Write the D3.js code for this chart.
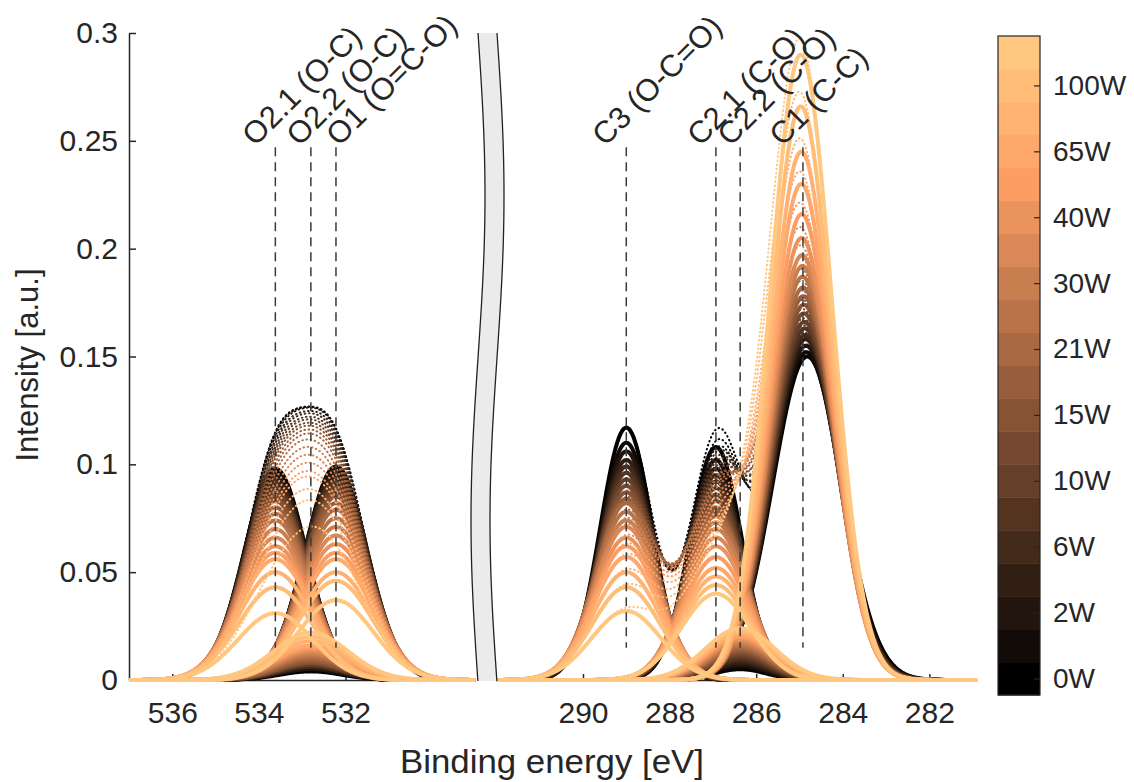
<!DOCTYPE html>
<html><head><meta charset="utf-8">
<script src="https://cdn.jsdelivr.net/npm/d3@7"></script>
<style>
body{margin:0;background:#fff}
text{font-family:"Liberation Sans",Arial,Helvetica,sans-serif;fill:#262626}
</style>
</head><body>
<svg id="chart" width="1134" height="782"></svg>
<script>
// ---------------- data ----------------
const yTicks = [0, 0.05, 0.1, 0.15, 0.2, 0.25, 0.3];
const xTicksO = [536, 534, 532];
const xTicksC = [290, 288, 286, 284, 282];
const colorbarLabels = ["0W","2W","6W","10W","15W","21W","30W","40W","65W","100W"];
const colorbarLabelIndex = [0,2,4,6,8,10,12,14,16,18];
const nSeries = 20;

const peakNames   = ["O2.1 (O-C)","O2.2 (O-C)","O1 (O=C-O)","C3 (O-C=O)","C2.1 (C-O)","C2.2 (C-O)","C1 (C-C)"];
const peakRegion  = ["O","O","O","C","C","C","C"];
const peakCenters = [533.62, 532.8, 532.22, 289.0, 286.93, 286.37, 284.92];
const peakLabelAt = [534.09, 533.07, 532.15, 289.49, 287.3, 286.6, 285.4];

// component amplitudes for each power level (0W ... highest)
const ampO21 = [0.098,0.097,0.095,0.093,0.091,0.089,0.087,0.085,0.083,0.080,0.077,0.074,0.070,0.066,0.062,0.059,0.056,0.050,0.043,0.031];
const ampO22 = [0.004,0.005,0.005,0.006,0.006,0.007,0.007,0.008,0.008,0.009,0.010,0.011,0.012,0.013,0.014,0.015,0.016,0.018,0.020,0.022];
const ampO1  = [0.099,0.098,0.097,0.095,0.093,0.091,0.089,0.087,0.085,0.082,0.079,0.075,0.071,0.067,0.063,0.059,0.056,0.050,0.046,0.037];
const ampC3  = [0.117,0.110,0.106,0.102,0.099,0.096,0.093,0.090,0.087,0.084,0.082,0.078,0.074,0.071,0.066,0.062,0.057,0.050,0.043,0.032];
const ampC21 = [0.108,0.102,0.098,0.095,0.092,0.089,0.086,0.083,0.080,0.078,0.076,0.073,0.070,0.066,0.062,0.057,0.052,0.048,0.044,0.040];
const ampC22 = [0.005,0.006,0.007,0.008,0.009,0.010,0.011,0.012,0.013,0.014,0.015,0.016,0.017,0.018,0.019,0.020,0.021,0.022,0.023,0.024];
const ampC1  = [0.150,0.152,0.155,0.158,0.160,0.163,0.166,0.170,0.174,0.178,0.182,0.187,0.192,0.197,0.205,0.216,0.230,0.245,0.266,0.290];
const centerC1 = [284.82,284.84,284.85,284.86,284.87,284.88,284.89,284.9,284.9,284.91,284.92,284.93,284.93,284.94,284.95,284.95,284.96,284.96,284.97,284.97];
// Gaussian widths (sigma, eV)
const sigmaO  = [0.72,0.72,0.73,0.73,0.74,0.74,0.75,0.75,0.76,0.77,0.78,0.79,0.80,0.81,0.82,0.82,0.83,0.84,0.85,0.86];
const sigmaC  = [0.60,0.61,0.62,0.63,0.64,0.65,0.66,0.67,0.68,0.69,0.70,0.71,0.72,0.73,0.74,0.75,0.76,0.77,0.78,0.80];
const sigmaC1 = [0.80,0.79,0.78,0.78,0.77,0.77,0.76,0.76,0.75,0.75,0.74,0.74,0.74,0.73,0.73,0.73,0.72,0.72,0.72,0.72];

// ---------------- layout ----------------
const svg = d3.select("#chart");
const y  = d3.scaleLinear().domain([0, 0.3]).range([680, 33]);
const xO = d3.scaleLinear().domain([537, 529]).range([129, 475.4]);
const xC = d3.scaleLinear().domain([292, 280.9]).range([496.4, 977]);
const copper = t => d3.rgb(255*Math.min(1,1.25*t), 255*0.7812*t, 255*0.4975*t).toString();
const col = i => copper(i/(nSeries-1));

const defs = svg.append("defs");
defs.append("clipPath").attr("id","clipO").append("rect").attr("x",129).attr("y",0).attr("width",475.4-129).attr("height",684);
defs.append("clipPath").attr("id","clipC").append("rect").attr("x",496.4).attr("y",0).attr("width",977-496.4+2).attr("height",684);

// axes (under curves)
const axCol = "#262626";
const gy = svg.append("g").attr("transform","translate(129,0)")
  .call(d3.axisLeft(y).tickValues(yTicks).tickSize(-7).tickSizeOuter(0).tickPadding(11).tickFormat(d=>String(d)));
const gxO = svg.append("g").attr("transform","translate(0,680)")
  .call(d3.axisBottom(xO).tickValues(xTicksO).tickSize(-6).tickSizeOuter(0).tickPadding(22).tickFormat(d=>String(d)));
const gxC = svg.append("g").attr("transform","translate(0,680)")
  .call(d3.axisBottom(xC).tickValues(xTicksC).tickSize(-6).tickSizeOuter(0).tickPadding(22).tickFormat(d=>String(d)));
[gy,gxO,gxC].forEach(g=>{
  g.selectAll("path,line").attr("stroke",axCol).attr("stroke-width",1.5);
  g.selectAll("text").attr("font-size",30).attr("fill",axCol).style("font-family",'"Liberation Sans",Arial,sans-serif');
});

// curves
const gauss = (x,a,c,s) => a*Math.exp(-(x-c)*(x-c)/(2*s*s));
const gridO = d3.range(529, 537.0001, 0.02);
const gridC = d3.range(280.9, 292.0001, 0.02);
const lineO = d3.line().x(d=>xO(d[0])).y(d=>y(d[1]));
const lineC = d3.line().x(d=>xC(d[0])).y(d=>y(d[1]));
const gO = svg.append("g").attr("clip-path","url(#clipO)");
const gC = svg.append("g").attr("clip-path","url(#clipC)");

for (let i=0;i<nSeries;i++){
  const compsO = [[ampO21[i],peakCenters[0],sigmaO[i]],[ampO22[i],peakCenters[1],sigmaO[i]],[ampO1[i],peakCenters[2],sigmaO[i]]];
  const compsC = [[ampC3[i],peakCenters[3],sigmaC[i]],[ampC21[i],peakCenters[4],sigmaC[i]],[ampC22[i],peakCenters[5],sigmaC[i]],[ampC1[i],centerC1[i],sigmaC1[i]]];
  const c = col(i);
  [[gO,compsO,gridO,lineO],[gC,compsC,gridC,lineC]].forEach(([g,comps,grid,ln])=>{
    comps.forEach(([a,cen,s])=>{
      g.append("path").attr("d", ln(grid.map(x=>[x,gauss(x,a,cen,s)])))
        .attr("fill","none").attr("stroke",c).attr("stroke-width",4).attr("stroke-linejoin","round");
    });
    g.append("path").attr("d", ln(grid.map(x=>[x, d3.sum(comps, k=>gauss(x,k[0],k[1],k[2]))])))
      .attr("fill","none").attr("stroke",c).attr("stroke-width",2)
      .attr("stroke-dasharray","0.6 3.6").attr("stroke-linecap","round");
  });
}

// dashed peak markers
peakCenters.forEach((p,k)=>{
  const sx = peakRegion[k]==="O" ? xO : xC;
  svg.append("line").attr("x1",sx(p)).attr("x2",sx(p)).attr("y1",y(0.247)).attr("y2",y(0.015))
    .attr("stroke","#3a3a3a").attr("stroke-width",1.5).attr("stroke-dasharray","9 6");
  const lx = sx(peakLabelAt[k]);
  svg.append("text").attr("transform",`translate(${lx},${y(0.247)}) rotate(-45)`)
    .attr("font-size",31).attr("fill","#111").text(peakNames[k]);
});

// axis break
const yy = d3.range(33, 684, 4);
const wave = v => 478 + 7*Math.sin(2*Math.PI*(v-33)/650);
const leftPts = yy.map(v=>[wave(v), v]);
const rightPts = yy.map(v=>[wave(v)+19, v]);
svg.append("path").attr("d", d3.line()(leftPts.concat(rightPts.slice().reverse())) + "Z").attr("fill","#ebebeb");
svg.append("path").attr("d", d3.line()(leftPts)).attr("fill","none").attr("stroke","#222").attr("stroke-width",1.3);
svg.append("path").attr("d", d3.line()(rightPts)).attr("fill","none").attr("stroke","#222").attr("stroke-width",1.3);

// axis titles
svg.append("text").attr("x",400).attr("y",773).attr("font-size",33).attr("textLength",304).attr("lengthAdjust","spacingAndGlyphs").text("Binding energy [eV]");
svg.append("text").attr("transform","translate(38,365) rotate(-90)").attr("text-anchor","middle").attr("font-size",31).text("Intensity [a.u.]");

// colorbar
const cbTop = 36, cbBot = 695, cbX = 998, cbW = 42;
const cb = d3.scaleBand().domain(d3.range(nSeries)).range([cbBot, cbTop]);
svg.append("g").selectAll("rect").data(d3.range(nSeries)).join("rect")
  .attr("x",cbX).attr("y",d=>cb(d)).attr("width",cbW).attr("height",cb.bandwidth()+0.5).attr("fill",d=>col(d));
svg.append("rect").attr("x",cbX).attr("y",cbTop).attr("width",cbW).attr("height",cbBot-cbTop).attr("fill","none").attr("stroke","#262626").attr("stroke-width",1.2);
const cbAxis = d3.axisRight(d3.scaleLinear().domain([0,nSeries]).range([cbBot,cbTop]))
  .tickValues(colorbarLabelIndex.map(v=>v+0.5)).tickSize(-6).tickSizeOuter(0).tickPadding(13)
  .tickFormat((d,j)=>colorbarLabels[j]);
const gcb = svg.append("g").attr("transform",`translate(${cbX+cbW},0)`).call(cbAxis);
gcb.select(".domain").remove();
gcb.selectAll("line").attr("stroke","#262626").attr("stroke-width",1.2);
gcb.selectAll("text").attr("font-size",28).attr("fill",axCol).style("font-family",'"Liberation Sans",Arial,sans-serif');
</script>
</body></html>
